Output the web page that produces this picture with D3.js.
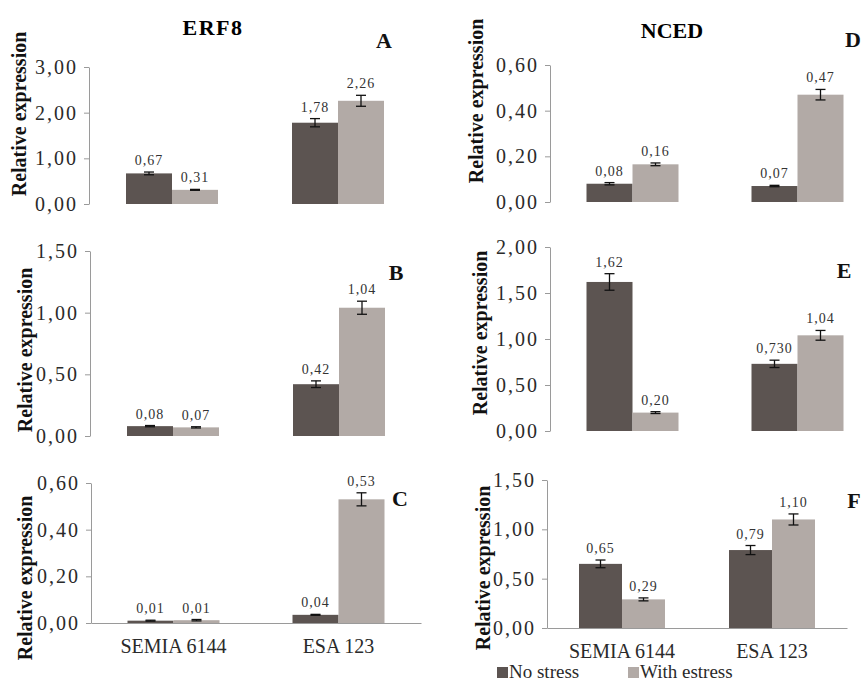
<!DOCTYPE html>
<html>
<head>
<meta charset="utf-8">
<script src="https://cdn.jsdelivr.net/npm/d3@7"></script>
<style>
  body { margin: 0; background: #fff; }
  svg, svg text { font-family: "Liberation Serif", "Times New Roman", serif !important; }
</style>
</head>
<body>
<svg id="chart" width="864" height="681"></svg>
<script>
// categories and series
var groups = ["SEMIA 6144", "ESA 123"];
var series = ["No stress", "With estress"];
var panelIds = ["A", "B", "C", "D", "E", "F"];
var genes = ["ERF8", "NCED"];

// bar values per panel, [SEMIA 6144, ESA 123]
var noStress = [[0.67, 1.78], [0.08, 0.42], [0.01, 0.035], [0.08, 0.07], [1.62, 0.73], [0.65, 0.79]];
var withStress = [[0.31, 2.26], [0.07, 1.04], [0.012, 0.53], [0.165, 0.47], [0.20, 1.04], [0.29, 1.10]];
// error bar half-lengths
var noStressErr = [[0.03, 0.09], [0.005, 0.027], [0.002, 0.002], [0.005, 0.003], [0.09, 0.04], [0.039, 0.046]];
var withStressErr = [[0.01, 0.12], [0.005, 0.053], [0.003, 0.028], [0.006, 0.023], [0.01, 0.053], [0.015, 0.056]];
// value labels as printed
var noStressLabels = [["0,67", "1,78"], ["0,08", "0,42"], ["0,01", "0,04"], ["0,08", "0,07"], ["1,62", "0,730"], ["0,65", "0,79"]];
var withStressLabels = [["0,31", "2,26"], ["0,07", "1,04"], ["0,01", "0,53"], ["0,16", "0,47"], ["0,20", "1,04"], ["0,29", "1,10"]];
// y axis ticks per panel
var yTicks = [[0, 1, 2, 3], [0, 0.5, 1, 1.5], [0, 0.2, 0.4, 0.6], [0, 0.2, 0.4, 0.6], [0, 0.5, 1, 1.5, 2], [0, 0.5, 1, 1.5]];

var colors = ["#5c5451", "#b2aaa6"];

// panel layout (pixels)
var layout = [
  { x0: 89, x1: 421, top: 67, bottom: 204, barW: 46, labX: 26, labY: 114, letX: 384, letY: 48, xaxis: false },
  { x0: 90, x1: 422, top: 251, bottom: 436, barW: 46, labX: 32, labY: 350, letX: 396, letY: 280, xaxis: false },
  { x0: 91, x1: 421, top: 483, bottom: 623, barW: 46, labX: 32, labY: 578, letX: 400, letY: 506, xaxis: true },
  { x0: 550, x1: 880, top: 65, bottom: 202, barW: 46, labX: 483, labY: 101, letX: 853, letY: 47, xaxis: false },
  { x0: 550, x1: 880, top: 247, bottom: 431, barW: 46, labX: 487, labY: 333, letX: 844, letY: 278, xaxis: false },
  { x0: 547, x1: 847, top: 480, bottom: 628, barW: 43, labX: 490, labY: 568, letX: 854, letY: 508, xaxis: true }
];

var svg = d3.select("#chart");
var fmt = function (v) { return d3.format(".2f")(v).replace(".", ","); };

// column titles
svg.append("text").attr("x", 213).attr("y", 35).attr("text-anchor", "middle")
  .attr("font-weight", "bold").attr("font-size", 22).attr("letter-spacing", 1.5).text(genes[0]);
svg.append("text").attr("x", 672).attr("y", 38).attr("text-anchor", "middle")
  .attr("font-weight", "bold").attr("font-size", 22).text(genes[1]);

panelIds.forEach(function (id, p) {
  var L = layout[p];
  var ticks = yTicks[p];
  var y = d3.scaleLinear().domain([0, ticks[ticks.length - 1]]).range([L.bottom, L.top]);
  var x = d3.scaleBand().domain(groups).range([L.x0, L.x1]);
  var g = svg.append("g");

  // y axis
  var ax = g.append("g").attr("transform", "translate(" + L.x0 + ",0)")
    .call(d3.axisLeft(y).tickValues(ticks).tickFormat(fmt).tickSize(5).tickSizeOuter(0).tickPadding(6));
  ax.attr("font-family", null);
  ax.selectAll("path, line").attr("stroke", "#9a9a9a");
  ax.selectAll("text").attr("font-size", 20)
    .attr("letter-spacing", 2).attr("fill", "#2a2a2a");

  // x axis only on the bottom row
  if (L.xaxis) {
    var bx = g.append("g").attr("transform", "translate(0," + L.bottom + ")")
      .call(d3.axisBottom(x).tickSize(0).tickPadding(16));
    bx.attr("font-family", null);
    bx.select(".domain").attr("stroke", "#9a9a9a");
    bx.selectAll("text").attr("font-size", 20).attr("fill", "#2a2a2a");
  }

  var rows = [];
  groups.forEach(function (grp, i) {
    rows.push({ grp: grp, s: 0, v: noStress[p][i], e: noStressErr[p][i], lab: noStressLabels[p][i] });
    rows.push({ grp: grp, s: 1, v: withStress[p][i], e: withStressErr[p][i], lab: withStressLabels[p][i] });
  });
  var bx0 = function (d) {
    var c = x(d.grp) + x.bandwidth() / 2;
    return d.s == 0 ? c - L.barW : c;
  };

  g.selectAll("rect.bar").data(rows).enter().append("rect")
    .attr("class", "bar")
    .attr("x", bx0)
    .attr("y", function (d) { return y(d.v); })
    .attr("width", L.barW)
    .attr("height", function (d) { return L.bottom - y(d.v); })
    .attr("fill", function (d) { return colors[d.s]; });

  // error bars
  var eb = g.selectAll("g.err").data(rows).enter().append("g").attr("class", "err")
    .attr("stroke", "#111").attr("stroke-width", 1.3);
  eb.append("line")
    .attr("x1", function (d) { return bx0(d) + L.barW / 2; })
    .attr("x2", function (d) { return bx0(d) + L.barW / 2; })
    .attr("y1", function (d) { return y(d.v + d.e); })
    .attr("y2", function (d) { return y(Math.max(0, d.v - d.e)); });
  [1, -1].forEach(function (sgn) {
    eb.append("line")
      .attr("x1", function (d) { return bx0(d) + L.barW / 2 - 5; })
      .attr("x2", function (d) { return bx0(d) + L.barW / 2 + 5; })
      .attr("y1", function (d) { return y(Math.max(0, d.v + sgn * d.e)); })
      .attr("y2", function (d) { return y(Math.max(0, d.v + sgn * d.e)); });
  });

  // value labels
  g.selectAll("text.val").data(rows).enter().append("text")
    .attr("class", "val")
    .attr("x", function (d) { return bx0(d) + L.barW / 2; })
    .attr("y", function (d) { return y(d.v + d.e) - 7; })
    .attr("text-anchor", "middle")
    .attr("font-size", 14).attr("letter-spacing", 1).attr("fill", "#333")
    .text(function (d) { return d.lab; });

  // y label
  g.append("text")
    .attr("transform", "translate(" + L.labX + "," + L.labY + ") rotate(-90)")
    .attr("text-anchor", "middle").attr("font-weight", "bold").attr("font-size", 20)
    .attr("fill", "#111")
    .text("Relative expression");

  // panel letter
  g.append("text").attr("x", L.letX).attr("y", L.letY).attr("text-anchor", "middle")
    .attr("font-weight", "bold").attr("font-size", 22).attr("fill", "#111").text(id);
});

// legend
var leg = svg.append("g");
var legX = [497, 628];
series.forEach(function (s, i) {
  leg.append("rect").attr("x", legX[i]).attr("y", 667).attr("width", 11).attr("height", 11)
    .attr("fill", colors[i]);
  leg.append("text").attr("x", legX[i] + 12).attr("y", 678).attr("font-size", 19)
    .attr("fill", "#2a2a2a").text(s);
});
</script>
</body>
</html>
